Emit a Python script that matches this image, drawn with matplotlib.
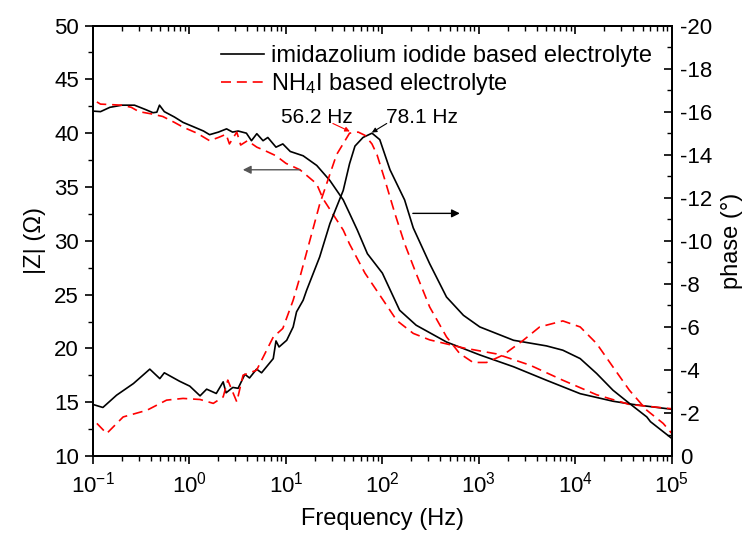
import matplotlib
matplotlib.use("Agg")
import matplotlib.pyplot as plt
from matplotlib.ticker import MultipleLocator, LogLocator, NullFormatter

plt.rcParams['font.family'] = ['Liberation Sans', 'DejaVu Sans']
plt.rcParams['mathtext.fontset'] = 'custom'
plt.rcParams['mathtext.rm'] = 'Liberation Sans'
plt.rcParams['mathtext.it'] = 'Liberation Sans:italic'
plt.rcParams['axes.unicode_minus'] = False

# |Z| of the imidazolium iodide electrolyte (ohm)
imid_z_f = [0.1, 0.12, 0.15, 0.2, 0.27, 0.35, 0.42, 0.46, 0.49, 0.55, 0.7, 0.86, 1.1, 1.4, 1.62,
            2.0, 2.43, 2.8, 3.2, 3.9, 4.4, 5.0, 5.8, 6.5, 7.9, 9.3, 11.1, 15.1, 20.9, 28.6, 39.3,
            45.7, 55, 70, 100, 151, 224, 462, 1023, 2290, 5012, 11220, 24550, 39800, 100000]
imid_z = [42.05, 42.0, 42.4, 42.6, 42.6, 42.2, 41.9, 41.95, 42.6, 42.0, 41.5, 41.0, 40.6, 40.2, 39.86,
          40.1, 40.4, 40.1, 40.2, 40.0, 39.3, 39.95, 39.3, 39.6, 38.7, 39.0, 38.3, 37.9, 37.0, 35.6, 33.8,
          32.55, 31.0, 28.8, 27.0, 23.55, 22.16, 20.6, 19.4, 18.3, 17.05, 15.8, 15.1, 14.8, 14.35]

# |Z| of the NH4I electrolyte (ohm)
nh4_z_f = [0.11, 0.12, 0.2, 0.25, 0.3, 0.4, 0.53, 0.7, 0.86, 1.2, 1.62, 2.0, 2.4, 2.6, 3.1, 3.4,
           4.0, 5.0, 6.0, 7.9, 10, 14, 20.8, 24.3, 39.3, 45.7, 66, 100, 141, 209, 309, 692,
           1514, 3388, 7413, 16600, 36300, 100000]
nh4_z = [42.9, 42.7, 42.6, 42.4, 42.0, 41.8, 41.55, 41.0, 40.56, 40.0, 39.3, 39.6, 39.9, 39.0, 40.1, 38.9,
         39.3, 38.7, 38.4, 37.9, 37.2, 36.6, 35.3, 33.9, 31.0, 29.7, 27.0, 24.6, 22.6, 21.4, 20.8, 20.05,
         19.5, 18.45, 17.05, 15.7, 14.8, 14.4]

# phase of the imidazolium iodide electrolyte (deg)
imid_ph_f = [0.1, 0.127, 0.176, 0.263, 0.389, 0.494, 0.55, 0.79, 1.01, 1.29, 1.51, 1.9, 2.24, 2.4,
             2.82, 3.2, 3.76, 4.2, 4.97, 5.6, 7.4, 7.9, 8.5, 10.2, 11.9, 12.9, 15.1, 16.4, 22.4,
             28.6, 39.3, 45.7, 52, 63, 78.1, 94, 120, 170, 209, 309, 462, 692, 1023, 2290, 5012,
             7413, 11220, 16600, 24550, 36300, 55000, 60000, 100000]
imid_ph = [-2.40, -2.26, -2.83, -3.37, -4.04, -3.6, -3.87, -3.48, -3.25, -2.80, -3.11, -2.91, -3.45, -2.94,
           -3.19, -3.15, -3.8, -3.63, -4.04, -3.87, -4.53, -5.35, -5.07, -5.38, -6.0, -6.7, -7.24, -7.7, -9.25,
           -10.8, -12.34, -13.58, -14.4, -14.8, -15.0, -14.7, -13.3, -11.9, -10.6, -8.94, -7.39, -6.54, -6.0,
           -5.38, -5.12, -4.92, -4.53, -3.84, -3.06, -2.45, -1.82, -1.6, -0.82]

# phase of the NH4I electrolyte (deg)
nh4_ph_f = [0.11, 0.139, 0.206, 0.363, 0.58, 0.86, 1.29, 1.77, 2.24, 2.5, 3.1, 3.6, 4.97, 7.4, 9.3,
            11.9, 14, 22.4, 33.5, 45.7, 56.2, 66, 78, 88, 105, 135, 170, 224, 309, 462, 631, 871,
            1202, 1778, 2884, 4266, 7413, 11220, 16600, 24550, 36300, 55000, 81300, 100000]
nh4_ph = [-1.52, -1.05, -1.82, -2.13, -2.6, -2.68, -2.63, -2.45, -2.75, -3.53, -2.52, -3.76, -3.99, -5.53, -5.93,
          -7.24, -8.32, -11.7, -14.0, -15.0, -15.05, -14.9, -14.5, -14.0, -12.9, -11.26, -9.87, -8.48, -6.93,
          -5.54, -4.77, -4.35, -4.35, -4.69, -5.38, -6.0, -6.28, -6.0, -5.23, -4.14, -3.06, -2.13, -1.52, -1.05]

labels = ['imidazolium iodide based electrolyte', 'NH$_4$I based electrolyte']
peak_labels = ['56.2 Hz', '78.1 Hz']

fig = plt.figure(figsize=(7.49, 5.43), dpi=100)
ax = fig.add_axes([0.124, 0.160, 0.773, 0.793])
ax2 = ax.twinx()

dash = (6, 3.5)
l1, = ax.plot(imid_z_f, imid_z, color='black', lw=1.2)
l2, = ax.plot(nh4_z_f, nh4_z, color='red', lw=1.2, dashes=dash)
ax2.plot(imid_ph_f, imid_ph, color='black', lw=1.2)
ax2.plot(nh4_ph_f, nh4_ph, color='red', lw=1.2, dashes=dash)

ax.set_xscale('log')
ax.set_xlim(0.1, 1e5)
ax.set_ylim(10, 50)
ax.yaxis.set_major_locator(MultipleLocator(5))
ax.yaxis.set_minor_locator(MultipleLocator(2.5))
ax.xaxis.set_major_locator(LogLocator(base=10, numticks=10))
ax.xaxis.set_minor_locator(LogLocator(base=10, subs=range(2, 10), numticks=20))
ax.xaxis.set_minor_formatter(NullFormatter())

ax2.set_ylim(0, -20)
ax2.yaxis.set_major_locator(MultipleLocator(2))
ax2.yaxis.set_minor_locator(MultipleLocator(1))

for a in (ax, ax2):
    for s in a.spines.values():
        s.set_linewidth(1.4)

ax.tick_params(axis='both', which='major', direction='out', length=6, width=1.2, labelsize=16, pad=4)
ax.tick_params(axis='x', which='major', pad=5)
ax.tick_params(axis='both', which='minor', direction='out', length=3.5, width=1.0)
ax2.tick_params(axis='y', which='major', direction='in', length=6, width=1.2, labelsize=16, pad=6)
ax2.tick_params(axis='y', which='minor', direction='in', length=3.5, width=1.0)

top = ax.secondary_xaxis('top')
top.xaxis.set_major_locator(LogLocator(base=10, numticks=10))
top.xaxis.set_minor_locator(LogLocator(base=10, subs=range(2, 10), numticks=20))
top.tick_params(which='major', direction='in', length=6, width=1.2, labeltop=False)
top.tick_params(which='minor', direction='in', length=3.5, width=1.0)
top.spines['top'].set_linewidth(1.4)

ax.set_xlabel('Frequency (Hz)', fontsize=17, labelpad=8)
ax.set_ylabel('|Z| (\u03a9)', fontsize=17, labelpad=6)
ax2.set_ylabel('phase (\u00b0)', fontsize=17, labelpad=6)

# peak frequency labels
ax2.text(20.9, -15.73, peak_labels[0], fontsize=15, ha='center', va='center')
ax2.text(257, -15.73, peak_labels[1], fontsize=15, ha='center', va='center')
ax2.annotate('', xy=(46, -15.08), xytext=(30.7, -15.45),
             arrowprops=dict(arrowstyle='-|>', color='red', lw=0.8, mutation_scale=7,
                             shrinkA=0, shrinkB=0))
ax2.annotate('', xy=(77.8, -15.03), xytext=(111, -15.45),
             arrowprops=dict(arrowstyle='-|>', color='black', lw=0.8, mutation_scale=7,
                             shrinkA=0, shrinkB=0))

# which axis each group belongs to
ax.annotate('', xy=(3.58, 36.6), xytext=(14, 36.6),
            arrowprops=dict(arrowstyle='-|>', color='#555555', lw=1.0, mutation_scale=12,
                            shrinkA=0, shrinkB=0))
ax.annotate('', xy=(635, 32.55), xytext=(207, 32.55),
            arrowprops=dict(arrowstyle='-|>', color='black', lw=1.0, mutation_scale=12,
                            shrinkA=0, shrinkB=0))

ax.legend([l1, l2], labels, loc='upper left', bbox_to_anchor=(0.222, 0.954), frameon=False,
          fontsize=17, handlelength=1.8, handletextpad=0.3, labelspacing=0.15, borderpad=0,
          borderaxespad=0)

fig.savefig('out.png', dpi=100)
